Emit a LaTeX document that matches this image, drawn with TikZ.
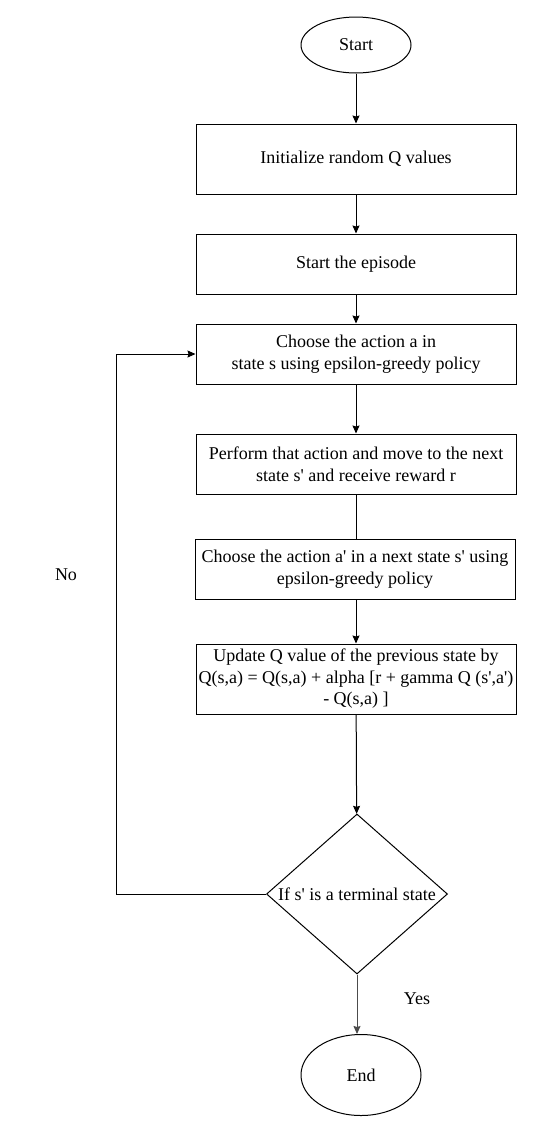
\documentclass[tikz,border=0pt]{standalone}
\usepackage{fontspec}
\setmainfont{Liberation Serif}[Ligatures=TeXOff]
\usetikzlibrary{shapes.geometric,arrows.meta}
\begin{document}
\begin{tikzpicture}[x=1pt,y=-1pt,
  every node/.style={font=\fontsize{18}{21.5}\selectfont},
  box/.style={draw,line width=1pt,minimum width=320pt,minimum height=60pt,align=center,inner sep=0pt},
  term/.style={draw,line width=1pt,ellipse,inner sep=0pt},
  dec/.style={draw,line width=1pt,diamond,minimum width=181pt,minimum height=160pt,inner sep=0pt},
  arr/.style={line width=1pt,-{Stealth[length=8pt,width=7pt,inset=1pt]}},
  ln/.style={line width=1pt}]
\useasboundingbox (0,0) rectangle (534,1133);
\fill[white] (0,0) rectangle (534,1133);
\node[term,minimum width=110pt,minimum height=56pt] (start) at (356,45) {Start};
\node[box,minimum height=70pt] (init) at (356,159) {Initialize random Q values};
\node[box] (ep) at (356,264) {Start the episode};
\node[box] (ch) at (356,354) {Choose the action a in\\state s using epsilon-greedy policy};
\node[box] (perf) at (356,464) {Perform that action and move to the next\\state s' and receive reward r};
\node[box] (ch2) at (355,569) {Choose the action a' in a next state s' using\\epsilon-greedy policy};
\node[box,minimum height=70pt] (upd) at (356,679) {Update Q value of the previous state by\\Q(s,a) = Q(s,a) + alpha [r + gamma Q (s',a')\\- Q(s,a) ]};
\node[dec] (term) at (357,894) {};
\node (termtxt) at (term.center) {If s' is a terminal state};
\node[term,minimum width=120pt,minimum height=81pt] (end) at (361,1075) {End};
\node (no) at (66,575) {No};
\node (yes) at (417,999) {Yes};
\coordinate (c1) at (116,894);
\coordinate (c2) at (116,354);
\draw[arr] (start) -- (init);
\draw[arr] (init) -- (ep);
\draw[arr] (ep) -- (ch);
\draw[arr] (ch) -- (perf);
\draw[ln] (perf.south) -- (perf.south |- ch2.north);
\draw[arr] (upd.north |- ch2.south) -- (upd.north);
\draw[arr] (upd) -- (term);
\draw[arr,draw=black!70] (term.south) -- (term.south |- end.north);
\draw[arr] (term.west) -- (c1) -- (c2) -- (ch.west);
\end{tikzpicture}
\end{document}
